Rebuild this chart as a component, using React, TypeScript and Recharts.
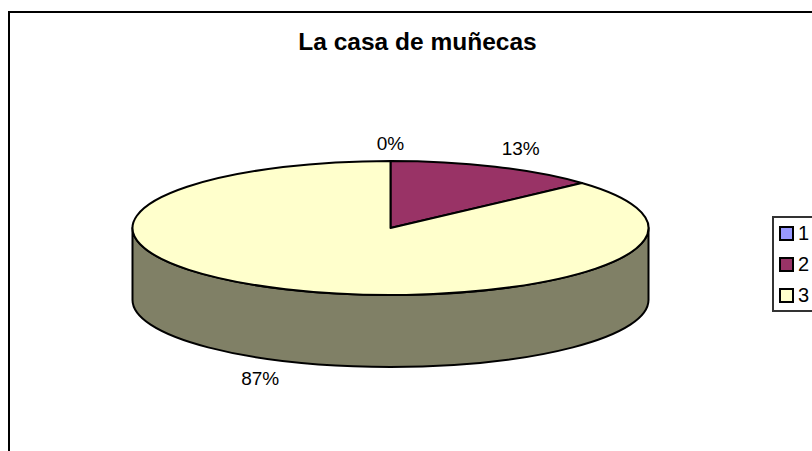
import React from "react";
import { PieChart, Pie, Cell, Legend } from "recharts";

const categories = ["1", "2", "3"];
const values = [0, 13.3, 86.7];
const labels = ["0%", "13%", "87%"];
const topColors = ["#9999FF", "#993366", "#FFFFCC"];
const wallColors = ["#4D4D80", "#4D1A33", "#808066"];

const rows = categories.map((name, i) => ({ name, value: values[i], label: labels[i] }));

const W = 812;
const H = 451;
const CX = 390.5;
const CY = 228;
const RX = 258;
const RY = 67;
const DEPTH = 72;
const LABEL_RX = 321;
const LABEL_RY = 87;
const ANGLES = { startAngle: 90, endAngle: -270 };

const pt = (a: number, dy = 0) => {
  const t = (a * Math.PI) / 180;
  return [CX + RX * Math.cos(t), CY + dy - RY * Math.sin(t)];
};

const TopShape = (p: any) => {
  const s = pt(p.startAngle);
  const e = pt(p.endAngle);
  const large = Math.abs(p.startAngle - p.endAngle) > 180 ? 1 : 0;
  const d = `M${CX},${CY}L${s[0]},${s[1]}A${RX},${RY} 0 ${large} 1 ${e[0]},${e[1]}Z`;
  return <path d={d} fill={p.fill} stroke="#000" strokeWidth={2} strokeLinejoin="round" />;
};

// the visible side of a slice is the part of it on the near half of the ellipse
const WallShape = (p: any) => {
  const hi = Math.min(p.startAngle, 0);
  const lo = Math.max(p.endAngle, -180);
  if (hi <= lo) return <g />;
  const a = pt(hi);
  const b = pt(lo);
  const c = pt(lo, DEPTH);
  const f = pt(hi, DEPTH);
  const d = `M${a[0]},${a[1]}A${RX},${RY} 0 0 1 ${b[0]},${b[1]}L${c[0]},${c[1]}A${RX},${RY} 0 0 0 ${f[0]},${f[1]}Z`;
  return <path d={d} fill={p.fill} stroke="#000" strokeWidth={2} strokeLinejoin="round" />;
};

const renderLabel = (p: any) => {
  const t = (p.midAngle * Math.PI) / 180;
  const sin = Math.sin(t);
  const x = CX + LABEL_RX * Math.cos(t);
  const y = CY - LABEL_RY * sin + (sin < 0 ? DEPTH - 1 : 0) + (sin === 1 ? 2 : 0);
  return (
    <text x={x} y={y} textAnchor="middle" dominantBaseline="central" fontSize={19} fill="#000" fontFamily="Liberation Sans">
      {p.payload.label}
    </text>
  );
};

const LegendBox = () => (
  <div
    style={{
      width: 60,
      height: 96,
      boxSizing: "border-box",
      border: "2px solid #333",
      background: "#fff",
      fontFamily: "Liberation Sans",
      fontSize: 20,
      color: "#000",
    }}
  >
    {categories.map((c, i) => (
      <div key={c} style={{ display: "flex", alignItems: "center", height: 31, paddingLeft: 5 }}>
        <span style={{ width: 15, height: 15, boxSizing: "border-box", background: topColors[i], border: "2.5px solid #000", marginRight: 4 }} />
        <span>{c}</span>
      </div>
    ))}
  </div>
);

export default function App() {
  return (
    <div style={{ position: "absolute", left: 0, top: 0, width: W, height: H, overflow: "hidden", background: "#fff" }}>
      <PieChart width={W} height={H} margin={{ top: 0, right: 0, bottom: 0, left: 0 }}>
        <rect x={9} y={12} width={W + 20} height={H + 20} fill="#fff" stroke="#000" strokeWidth={2} />
        <text x={417.5} y={50} textAnchor="middle" fontSize={24.5} fontWeight="bold" fill="#000" fontFamily="Liberation Sans">
          La casa de muñecas
        </text>
        <Pie data={rows} dataKey="value" nameKey="name" cx={CX} cy={CY} outerRadius={RX} {...ANGLES} shape={WallShape} label={false} legendType="none" stroke="none" isAnimationActive={false}>
          {rows.map((r, i) => <Cell key={r.name} fill={wallColors[i]} />)}
        </Pie>
        <Pie data={rows} dataKey="value" nameKey="name" cx={CX} cy={CY} outerRadius={RX} {...ANGLES} shape={TopShape} label={renderLabel} labelLine={false} stroke="none" isAnimationActive={false}>
          {rows.map((r, i) => <Cell key={r.name} fill={topColors[i]} />)}
        </Pie>
        <Legend content={LegendBox} layout="vertical" wrapperStyle={{ position: "absolute", left: 772, top: 216, width: 60, height: 96 }} />
      </PieChart>
    </div>
  );
}
